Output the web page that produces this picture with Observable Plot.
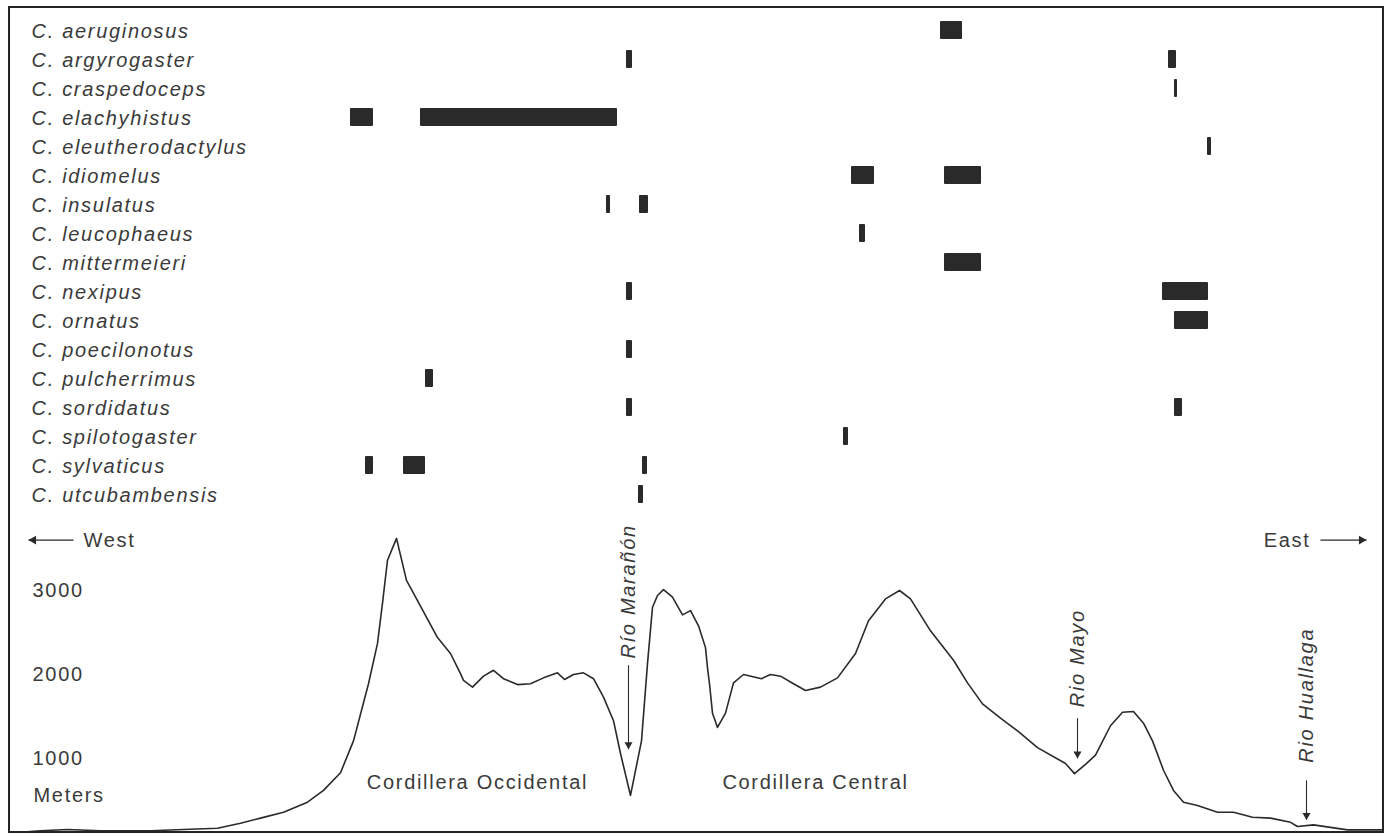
<!DOCTYPE html>
<html>
<head>
<meta charset="utf-8">
<script src="https://cdn.jsdelivr.net/npm/d3@7"></script>
<script src="https://cdn.jsdelivr.net/npm/@observablehq/plot@0.6"></script>
<style>
html, body { margin: 0; padding: 0; background: #fff; }
#frame { position: absolute; left: 8px; top: 6px; width: 1376px; height: 827px; box-sizing: border-box;
  border: 2.5px solid #242424; background: #fff; overflow: hidden; }
#frame svg { display: block; }
</style>
</head>
<body>
<div id="frame"></div>
<script>
// ---- Species (rows, top to bottom) ----
const species = [
  "C. aeruginosus", "C. argyrogaster", "C. craspedoceps", "C. elachyhistus",
  "C. eleutherodactylus", "C. idiomelus", "C. insulatus", "C. leucophaeus",
  "C. mittermeieri", "C. nexipus", "C. ornatus", "C. poecilonotus",
  "C. pulcherrimus", "C. sordidatus", "C. spilotogaster", "C. sylvaticus",
  "C. utcubambensis"
];

// ---- Distribution segments along the west→east transect: [species, from, to] ----
const ranges = [
  ["C. aeruginosus", 930, 952],
  ["C. argyrogaster", 616, 622], ["C. argyrogaster", 1158, 1166],
  ["C. craspedoceps", 1164, 1167],
  ["C. elachyhistus", 340, 363], ["C. elachyhistus", 410, 607],
  ["C. eleutherodactylus", 1197, 1201],
  ["C. idiomelus", 841, 864], ["C. idiomelus", 934, 971],
  ["C. insulatus", 596, 600], ["C. insulatus", 629, 638],
  ["C. leucophaeus", 849, 855],
  ["C. mittermeieri", 934, 971],
  ["C. nexipus", 616, 622], ["C. nexipus", 1152, 1198],
  ["C. ornatus", 1164, 1198],
  ["C. poecilonotus", 616, 622],
  ["C. pulcherrimus", 415, 423],
  ["C. sordidatus", 616, 622], ["C. sordidatus", 1164, 1172],
  ["C. spilotogaster", 833, 838],
  ["C. sylvaticus", 355, 363], ["C. sylvaticus", 393, 415], ["C. sylvaticus", 632, 637],
  ["C. utcubambensis", 628, 633]
];

// ---- Elevation profile (position along transect, elevation in meters) ----
const profileX = [0, 8, 30, 57, 90, 140, 173, 207, 230, 250, 273, 297, 313, 330, 343, 358, 367, 372, 377, 386,
  396, 407, 427, 440, 450, 453, 462, 473, 483, 493, 507, 520, 533, 547, 554, 563, 573, 583, 593, 603,
  610, 620, 631, 637, 642, 647, 653, 662, 672, 680, 688, 695, 697, 699, 702, 707, 715, 723, 733, 751,
  760, 770, 783, 795, 810, 827, 845, 858, 875, 889, 900, 920, 943, 957, 972, 990, 1008, 1027, 1055, 1064,
  1075, 1085, 1100, 1112, 1123, 1133, 1142, 1153, 1163, 1173, 1187, 1207, 1223, 1242, 1260, 1280, 1287, 1303, 1320, 1337, 1372];
const profileElev = [110, 120, 140, 155, 140, 140, 155, 170, 230, 290, 360, 480, 620, 830, 1210, 1890, 2370, 2850, 3360, 3620,
  3120, 2880, 2440, 2250, 2010, 1930, 1850, 1980, 2050, 1950, 1880, 1890, 1960, 2020, 1940, 2000, 2020, 1950, 1730, 1450,
  1060, 560, 1210, 2130, 2800, 2940, 3010, 2920, 2710, 2760, 2580, 2320, 2080, 1890, 1540, 1370, 1540, 1900, 2000, 1950,
  2000, 1980, 1890, 1810, 1850, 1960, 2250, 2640, 2900, 3000, 2900, 2520, 2170, 1900, 1650, 1480, 1320, 1130, 940, 820,
  930, 1040, 1390, 1550, 1560, 1420, 1210, 860, 620, 480, 440, 360, 360, 300, 290, 240, 190, 210, 180, 150, 150];

// ---- Elevation axis ----
const elevTicks = [1000, 2000, 3000];
const elevUnit = "Meters";

// ---- Region names ----
const regionNames = ["Cordillera Occidental", "Cordillera Central"];
const regionX = [467, 805];
const regionElev = [710, 710];

// ---- Rivers: label, position, elevation at label foot, arrow start/end elevations ----
const riverNames = ["Río Marañón", "Rio Mayo", "Rio Huallaga"];
const riverX = [618, 1067, 1296];
const riverLabelElev = [2190, 1610, 950];
const riverArrowFrom = [2110, 1480, 740];
const riverArrowTo = [1110, 1000, 270];

// ---- Direction markers ----
const westLabel = "West", eastLabel = "East";
const westTextX = 73, eastTextX = 1300;
const westArrow = [63, 18];   // from, to
const eastArrow = [1310, 1356];
const dirElev = 3600;

// ---- Build tables ----
const bars = ranges.map(([s, a, b]) => ({species: s, from: a, to: b}));
const profile = profileX.map((x, i) => ({x, elev: profileElev[i]}));
const regions = regionNames.map((t, i) => ({t, x: regionX[i], e: regionElev[i]}));
const rivers = riverNames.map((t, i) => ({t, x: riverX[i], e: riverLabelElev[i], e1: riverArrowFrom[i], e2: riverArrowTo[i]}));
const west = [{x1: westArrow[0], x2: westArrow[1], e: dirElev}];
const east = [{x1: eastArrow[0], x2: eastArrow[1], e: dirElev}];

const W = 1371;
const ink = "#2a2a2a";
const txt = "#3a3a3a";
const baseStyle = {fontFamily: "'Liberation Sans', Arial, Helvetica, sans-serif", fontSize: "20px",
  letterSpacing: "1.7px", color: txt, background: "transparent", overflow: "visible"};

const topChart = Plot.plot({
  width: W, height: 505, margin: 0,
  style: baseStyle,
  x: {domain: [0, W], range: [0, W], axis: null},
  y: {type: "band", domain: species, range: [5.4, 502.6], paddingInner: 0.385, paddingOuter: 0.1925},
  marks: [
    Plot.barX(bars, {x1: "from", x2: "to", y: "species", fill: ink, rx: 1}),
    Plot.axisY({anchor: "left", tickSize: 0, tickPadding: 0, textAnchor: "start", dx: 21, dy: 1,
      fontStyle: "italic", fontSize: 20, fill: txt, label: null})
  ]
});

const bottomChart = Plot.plot({
  width: W, height: 317, margin: 0,
  style: baseStyle,
  x: {domain: [0, W], range: [0, W], axis: null},
  y: {domain: [0, 3000], range: [329, 77]},
  marks: [
    Plot.line(profile, {x: "x", y: "elev", stroke: ink, strokeWidth: 1.6, strokeLinejoin: "round"}),
    Plot.axisY(elevTicks, {anchor: "left", tickSize: 0, tickPadding: 0, textAnchor: "start", dx: 22,
      tickFormat: "d", fontSize: 20, fill: txt, label: null}),
    Plot.text([elevUnit], {x: [23], y: [560], text: d => d, textAnchor: "start", fontSize: 20, fill: txt}),
    Plot.text(regions, {x: "x", y: "e", text: "t", fontSize: 20, fill: txt}),
    // rivers: rotated labels, shaft and filled head
    Plot.text(rivers, {x: "x", y: "e", text: "t", rotate: -90, textAnchor: "start", fontStyle: "italic", fontSize: 20, fill: txt}),
    Plot.link(rivers, {x: "x", y1: "e1", y2: "e2", stroke: ink, strokeWidth: 1.1}),
    Plot.dot(rivers, {x: "x", y: "e2", symbol: "triangle", r: 3, rotate: 180, dy: -4.6, fill: ink, stroke: "none"}),
    // direction markers
    Plot.text([westLabel], {x: [westTextX], y: [dirElev], text: d => d, textAnchor: "start", fontSize: 20, fill: txt}),
    Plot.text([eastLabel], {x: [eastTextX], y: [dirElev], text: d => d, textAnchor: "end", fontSize: 20, fill: txt}),
    Plot.link(west, {x1: "x1", x2: "x2", y: "e", stroke: ink, strokeWidth: 1.4}),
    Plot.link(east, {x1: "x1", x2: "x2", y: "e", stroke: ink, strokeWidth: 1.4}),
    Plot.dot(west, {x: "x2", y: "e", symbol: "triangle", r: 3.3, rotate: -90, dx: 5, fill: ink, stroke: "none"}),
    Plot.dot(east, {x: "x2", y: "e", symbol: "triangle", r: 3.3, rotate: 90, dx: -5, fill: ink, stroke: "none"})
  ]
});

const frame = document.getElementById("frame");
frame.appendChild(topChart);
frame.appendChild(bottomChart);
</script>
</body>
</html>
